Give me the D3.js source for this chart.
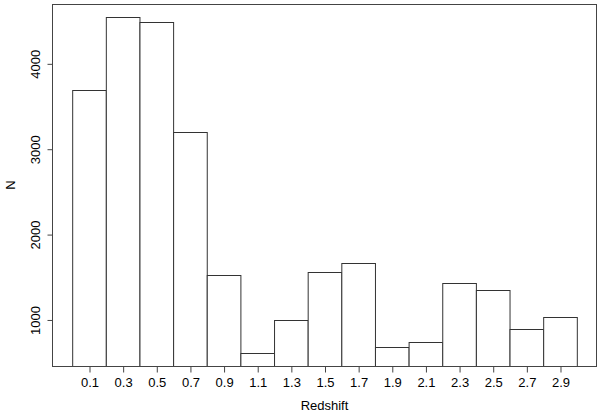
<!DOCTYPE html>
<html>
<head>
<meta charset="utf-8">
<script src="https://cdn.jsdelivr.net/npm/d3@7"></script>
<style>
  body { margin: 0; background: #fff; }
  svg text { font-family: "Liberation Sans", Arial, sans-serif; font-size: 13px; fill: #000; }
</style>
</head>
<body>
<svg id="chart" width="600" height="412"></svg>
<script>
// bin edges start at 0, each bin 0.2 wide
let binStarts = [0, 0.2, 0.4, 0.6, 0.8, 1.0, 1.2, 1.4, 1.6, 1.8, 2.0, 2.2, 2.4, 2.6, 2.8];
let counts = [3684, 4538, 4483, 3197, 1526, 612, 996, 1553, 1663, 681, 739, 1429, 1343, 891, 1027];
let xTickLabels = ["0.1", "0.3", "0.5", "0.7", "0.9", "1.1", "1.3", "1.5", "1.7", "1.9", "2.1", "2.3", "2.5", "2.7", "2.9"];
let yTicks = [1000, 2000, 3000, 4000];
let binWidth = 0.2;

let width = 600, height = 412;
let margin = {top: 4, right: 3, bottom: 46, left: 52};

let svg = d3.select('#chart');

// R-style 4% padding around the data range
let x = d3.scaleLinear()
    .domain([-0.12, 3.12])
    .range([margin.left, width - margin.right]);

let yMin = d3.min(counts), yMax = d3.max(counts);
let pad = (yMax - yMin) * 0.04;
let y = d3.scaleLinear()
    .domain([yMin - pad, yMax + pad])
    .range([height - margin.bottom, margin.top]);

svg.append('clipPath').attr('id', 'plotArea')
  .append('rect')
    .attr('x', margin.left)
    .attr('y', margin.top)
    .attr('width', width - margin.left - margin.right)
    .attr('height', height - margin.top - margin.bottom);

svg.append('g')
    .attr('clip-path', 'url(#plotArea)')
  .selectAll('rect')
  .data(counts)
  .enter().append('rect')
    .attr('x', (d, i) => x(binStarts[i]) + 0.5)
    .attr('y', d => Math.round(y(d)) + 0.5)
    .attr('width', (d, i) => x(binStarts[i] + binWidth) - x(binStarts[i]))
    .attr('height', d => y.range()[0] - Math.round(y(d)) + 2)
    .attr('fill', '#fff')
    .attr('stroke', '#333')
    .attr('stroke-width', 1);

// box
svg.append('rect')
    .attr('x', margin.left + 0.5)
    .attr('y', margin.top + 0.5)
    .attr('width', width - margin.left - margin.right - 1)
    .attr('height', height - margin.top - margin.bottom)
    .attr('fill', 'none')
    .attr('stroke', '#444');

// x axis
let xAxis = d3.axisBottom(x)
    .tickValues(binStarts.map(b => b + binWidth / 2))
    .tickFormat((d, i) => xTickLabels[i])
    .tickSize(6)
    .tickPadding(5);

let gx = svg.append('g')
    .attr('transform', `translate(0.5, ${height - margin.bottom + 0.5})`)
    .call(xAxis);
gx.select('.domain').remove();
gx.selectAll('line').attr('stroke', '#444');
gx.selectAll('text').style('font-size', '13px').attr('font-family', null);

// y axis
let yAxis = d3.axisLeft(y)
    .tickValues(yTicks)
    .tickFormat(d3.format('d'))
    .tickSize(5)
    .tickPadding(0);

let gy = svg.append('g')
    .attr('transform', `translate(${margin.left + 0.5}, 0.5)`)
    .call(yAxis);
gy.select('.domain').remove();
gy.selectAll('line').attr('stroke', '#444');
gy.selectAll('text')
    .attr('x', null).attr('dy', null)
    .attr('text-anchor', 'middle')
    .attr('transform', 'translate(-13, 0) rotate(-90)')
    .style('font-size', '13px');

// titles
svg.append('text')
    .attr('x', (margin.left + width - margin.right) / 2)
    .attr('y', 410)
    .attr('text-anchor', 'middle')
    .text('Redshift');

svg.append('text')
    .attr('transform', `translate(15, ${(margin.top + height - margin.bottom) / 2}) rotate(-90)`)
    .attr('text-anchor', 'middle')
    .text('N');
</script>
</body>
</html>
